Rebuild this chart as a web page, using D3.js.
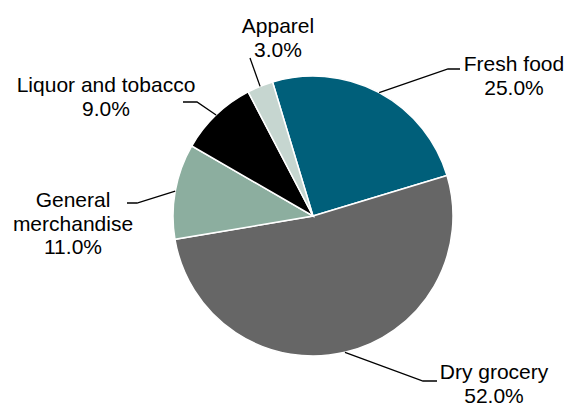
<!DOCTYPE html>
<html>
<head>
<meta charset="utf-8">
<script src="https://cdn.jsdelivr.net/npm/d3@7"></script>
<style>
  body { margin: 0; background: #fff; }
  text { font-family: "Liberation Sans", Arial, sans-serif; font-size: 21px; fill: #000; }
</style>
</head>
<body>
<div id="chart"></div>
<script>
// data
const categories = ["Fresh food", "Dry grocery", "General merchandise", "Liquor and tobacco", "Apparel"];
const shares = [25.0, 52.0, 11.0, 9.0, 3.0];
const colors = ["#005f7a", "#666666", "#8cae9f", "#000000", "#c6d6d0"];

// label layout (text lines, text anchor point, leader elbow and end)
const labelLayout = {
  "Fresh food":          { lines: ["Fresh food"], x: 514, y: 71, elbow: [448, 69], end: [460, 69] },
  "Dry grocery":         { lines: ["Dry grocery"], x: 494, y: 379, elbow: [423, 381], end: [437, 381] },
  "General merchandise": { lines: ["General", "merchandise"], x: 73, y: 207, elbow: [137, 203], end: [127, 203] },
  "Liquor and tobacco":  { lines: ["Liquor and tobacco"], x: 106, y: 92, elbow: [197, 102], end: [183, 102] },
  "Apparel":             { lines: ["Apparel"], x: 278, y: 33, elbow: [250, 58], end: [250, 58] }
};

const width = 574, height = 407;
const cx = 313, cy = 216, radius = 140;
const lineGap = 23.5;

const svg = d3.select("#chart")
  .append("svg")
  .attr("width", width)
  .attr("height", height);

const data = categories.map((c, i) => ({ name: c, value: shares[i], color: colors[i] }));

const start = -16.8 * Math.PI / 180;
const pie = d3.pie()
  .sort(null)
  .value(d => d.value)
  .startAngle(start)
  .endAngle(start + 2 * Math.PI);

const arc = d3.arc().innerRadius(0).outerRadius(radius);

const g = svg.append("g").attr("transform", `translate(${cx}, ${cy})`);

const arcs = pie(data);

g.selectAll("path.slice")
  .data(arcs)
  .join("path")
  .attr("class", "slice")
  .attr("d", arc)
  .attr("fill", d => d.data.color)
  .attr("stroke", "#fff")
  .attr("stroke-width", 1.5);

// leader lines
svg.selectAll("polyline.leader")
  .data(arcs)
  .join("polyline")
  .attr("class", "leader")
  .attr("fill", "none")
  .attr("stroke", "#000")
  .attr("stroke-width", 1.3)
  .attr("points", d => {
    const mid = (d.startAngle + d.endAngle) / 2;
    const sx = cx + radius * Math.sin(mid);
    const sy = cy - radius * Math.cos(mid);
    const L = labelLayout[d.data.name];
    return [[sx, sy], L.elbow, L.end].map(p => p.join(",")).join(" ");
  });

// labels
const labels = svg.selectAll("text.label")
  .data(arcs)
  .join("text")
  .attr("class", "label")
  .attr("text-anchor", "middle");

labels.each(function (d) {
  const L = labelLayout[d.data.name];
  const t = d3.select(this);
  const all = L.lines.concat([d.data.value.toFixed(1) + "%"]);
  all.forEach((s, i) => {
    t.append("tspan")
      .attr("x", L.x)
      .attr("y", L.y + i * lineGap)
      .text(s);
  });
});
</script>
</body>
</html>
